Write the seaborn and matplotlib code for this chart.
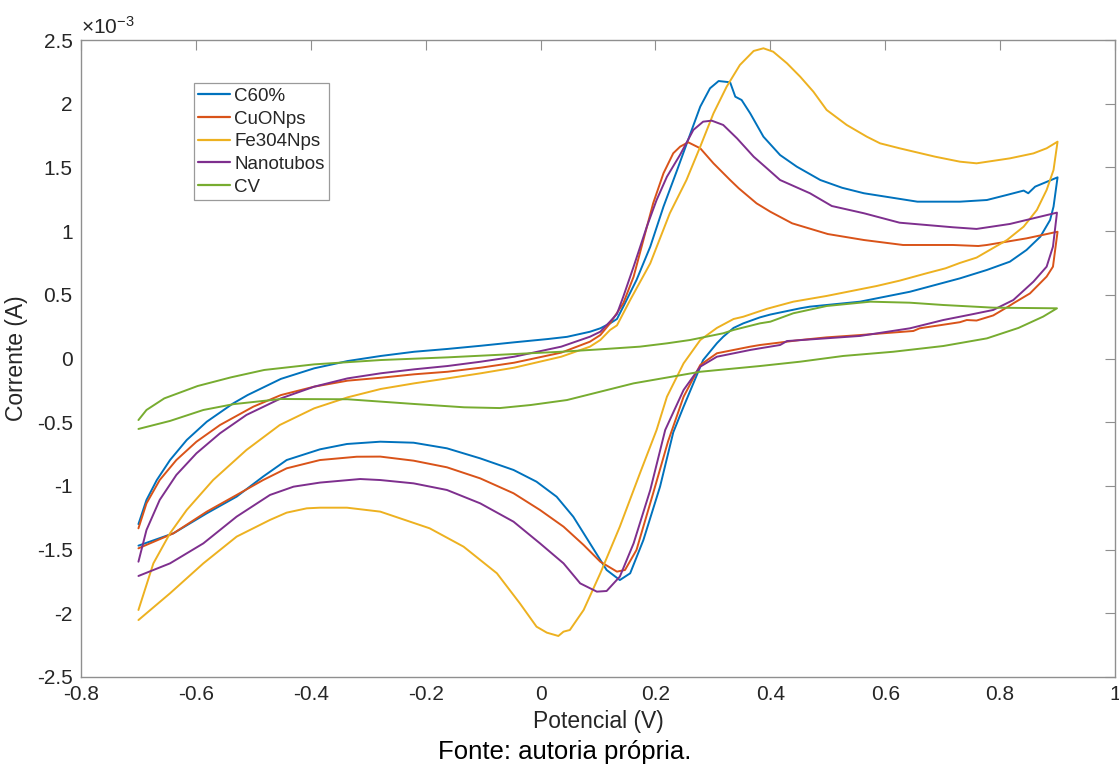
import numpy as np
import pandas as pd
import matplotlib
matplotlib.use("Agg")
import matplotlib.pyplot as plt
import seaborn as sns

# Cyclic voltammograms: potential (V) and current (x10^-3 A), one full cycle each:
# anodic sweep from -0.7 V up to 0.9 V, then the cathodic sweep back to -0.7 V.
c60_v = [-0.700, -0.686, -0.668, -0.645, -0.616, -0.581, -0.535, -0.510, -0.452, -0.394,
         -0.336, -0.278, -0.220, -0.162, -0.104, -0.046, 0.013, 0.046, 0.086, 0.104,
         0.121, 0.133, 0.144, 0.167, 0.191, 0.214, 0.237, 0.260, 0.278, 0.295,
         0.310, 0.330, 0.339, 0.350, 0.365, 0.388, 0.417, 0.446, 0.487, 0.525,
         0.563, 0.656, 0.730, 0.777, 0.812, 0.841, 0.849, 0.861, 0.900,
         0.893, 0.887, 0.870, 0.846, 0.817, 0.777, 0.730, 0.643, 0.556, 0.469,
         0.452, 0.400, 0.382, 0.353, 0.336, 0.318, 0.307, 0.283, 0.249, 0.231,
         0.208, 0.179, 0.156, 0.138, 0.115, 0.086, 0.057, 0.028, -0.007, -0.047,
         -0.105, -0.163, -0.221, -0.279, -0.337, -0.384, -0.442, -0.483, -0.529, -0.581,
         -0.639, -0.700]
c60_i = [-1.300, -1.110, -0.954, -0.797, -0.640, -0.496, -0.352, -0.287, -0.160, -0.077,
         -0.020, 0.020, 0.053, 0.075, 0.100, 0.127, 0.153, 0.170, 0.210, 0.237,
         0.276, 0.310, 0.407, 0.616, 0.878, 1.192, 1.470, 1.755, 1.977, 2.121,
         2.178, 2.168, 2.055, 2.029, 1.924, 1.741, 1.597, 1.506, 1.401, 1.340,
         1.297, 1.231, 1.231, 1.244, 1.284, 1.318, 1.297, 1.349, 1.422,
         1.192, 1.087, 0.956, 0.852, 0.760, 0.695, 0.629, 0.524, 0.446, 0.407,
         0.394, 0.345, 0.323, 0.276, 0.240, 0.171, 0.120, -0.012, -0.378, -0.580,
         -1.006, -1.425, -1.686, -1.739, -1.660, -1.451, -1.242, -1.085, -0.967, -0.875,
         -0.784, -0.705, -0.661, -0.653, -0.671, -0.713, -0.797, -0.927, -1.084, -1.215,
         -1.372, -1.469]

cuo_v = [-0.700, -0.686, -0.663, -0.634, -0.599, -0.558, -0.500, -0.452, -0.394, -0.336,
         -0.278, -0.220, -0.162, -0.104, -0.046, 0.036, 0.086, 0.104, 0.121, 0.144,
         0.162, 0.179, 0.196, 0.214, 0.231, 0.243, 0.257, 0.278, 0.301, 0.330,
         0.345, 0.376, 0.400, 0.438, 0.500, 0.563, 0.631, 0.718, 0.762, 0.777,
         0.846, 0.900,
         0.892, 0.881, 0.852, 0.823, 0.814, 0.788, 0.759, 0.742, 0.730, 0.660,
         0.649, 0.556, 0.498, 0.452, 0.382, 0.365, 0.307, 0.278, 0.249, 0.222,
         0.196, 0.167, 0.147, 0.133, 0.104, 0.075, 0.040, -0.001, -0.047, -0.105,
         -0.163, -0.221, -0.279, -0.320, -0.384, -0.442, -0.483, -0.529, -0.581, -0.639,
         -0.700]
cuo_i = [-1.333, -1.137, -0.954, -0.797, -0.653, -0.522, -0.378, -0.287, -0.221, -0.174,
         -0.151, -0.124, -0.104, -0.072, -0.033, 0.046, 0.132, 0.184, 0.276, 0.433,
         0.642, 0.930, 1.218, 1.454, 1.611, 1.663, 1.697, 1.650, 1.532, 1.401,
         1.336, 1.218, 1.152, 1.061, 0.977, 0.930, 0.891, 0.891, 0.883, 0.891,
         0.943, 0.995,
         0.721, 0.643, 0.511, 0.433, 0.407, 0.338, 0.298, 0.302, 0.285, 0.237,
         0.216, 0.184, 0.166, 0.145, 0.106, 0.093, 0.041, -0.051, -0.300, -0.650,
         -1.058, -1.503, -1.660, -1.673, -1.595, -1.464, -1.320, -1.189, -1.058, -0.941,
         -0.854, -0.802, -0.770, -0.771, -0.797, -0.862, -0.954, -1.071, -1.202, -1.372,
         -1.490]

fe3o4_v = [-0.700, -0.674, -0.645, -0.616, -0.570, -0.512, -0.454, -0.394, -0.336, -0.278,
           -0.220, -0.162, -0.104, -0.046, 0.036, 0.086, 0.104, 0.121, 0.133, 0.156,
           0.191, 0.225, 0.254, 0.278, 0.301, 0.324, 0.347, 0.371, 0.388, 0.405,
           0.429, 0.452, 0.475, 0.498, 0.533, 0.568, 0.591, 0.625, 0.687, 0.730,
           0.759, 0.817, 0.858, 0.881, 0.900,
           0.893, 0.881, 0.864, 0.841, 0.812, 0.777, 0.759, 0.730, 0.705, 0.672,
           0.625, 0.585, 0.498, 0.440, 0.394, 0.353, 0.336, 0.307, 0.278, 0.249,
           0.220, 0.202, 0.173, 0.138, 0.104, 0.075, 0.051, 0.040, 0.031, 0.011,
           -0.007, -0.036, -0.076, -0.134, -0.193, -0.279, -0.337, -0.384, -0.407, -0.442,
           -0.471, -0.529, -0.587, -0.645, -0.700]
fe3o4_i = [-1.974, -1.608, -1.372, -1.189, -0.954, -0.718, -0.522, -0.391, -0.305, -0.239,
           -0.195, -0.156, -0.116, -0.072, 0.014, 0.093, 0.145, 0.224, 0.260, 0.459,
           0.747, 1.140, 1.401, 1.663, 1.924, 2.134, 2.304, 2.414, 2.435, 2.408,
           2.317, 2.212, 2.094, 1.951, 1.833, 1.741, 1.689, 1.650, 1.584, 1.545,
           1.532, 1.571, 1.610, 1.650, 1.702,
           1.480, 1.323, 1.166, 1.035, 0.930, 0.839, 0.792, 0.750, 0.708, 0.669,
           0.611, 0.569, 0.491, 0.446, 0.390, 0.328, 0.310, 0.240, 0.145, -0.038,
           -0.300, -0.561, -0.901, -1.320, -1.686, -1.974, -2.131, -2.144, -2.178, -2.152,
           -2.105, -1.922, -1.686, -1.477, -1.333, -1.202, -1.171, -1.171, -1.176, -1.210,
           -1.267, -1.398, -1.608, -1.843, -2.053]

nano_v = [-0.700, -0.686, -0.663, -0.634, -0.599, -0.558, -0.512, -0.452, -0.394, -0.336,
          -0.278, -0.220, -0.162, -0.104, -0.046, 0.036, 0.086, 0.104, 0.121, 0.133,
          0.144, 0.162, 0.185, 0.202, 0.220, 0.243, 0.266, 0.283, 0.298, 0.318,
          0.342, 0.371, 0.394, 0.417, 0.469, 0.507, 0.563, 0.625, 0.718, 0.759,
          0.817, 0.899,
          0.892, 0.881, 0.858, 0.823, 0.788, 0.749, 0.701, 0.643, 0.556, 0.429,
          0.417, 0.382, 0.365, 0.307, 0.278, 0.249, 0.217, 0.191, 0.162, 0.138,
          0.115, 0.098, 0.069, 0.040, -0.001, -0.047, -0.105, -0.163, -0.221, -0.279,
          -0.314, -0.384, -0.430, -0.471, -0.529, -0.587, -0.645, -0.700]
nano_i = [-1.595, -1.346, -1.110, -0.914, -0.744, -0.587, -0.443, -0.313, -0.221, -0.156,
          -0.116, -0.085, -0.059, -0.025, 0.014, 0.093, 0.171, 0.210, 0.290, 0.350,
          0.485, 0.721, 1.035, 1.244, 1.427, 1.600, 1.794, 1.859, 1.867, 1.833,
          1.728, 1.584, 1.493, 1.401, 1.297, 1.197, 1.140, 1.066, 1.030, 1.017,
          1.056, 1.145,
          0.878, 0.721, 0.603, 0.459, 0.381, 0.345, 0.302, 0.237, 0.177, 0.137,
          0.106, 0.080, 0.067, 0.014, -0.064, -0.247, -0.561, -1.032, -1.451, -1.712,
          -1.825, -1.830, -1.765, -1.608, -1.451, -1.281, -1.137, -1.032, -0.980, -0.954,
          -0.946, -0.974, -1.006, -1.071, -1.241, -1.451, -1.608, -1.707]

cv_v = [-0.700, -0.686, -0.655, -0.597, -0.539, -0.481, -0.394, -0.278, -0.162, -0.046,
        0.036, 0.104, 0.173, 0.220, 0.260, 0.318, 0.336, 0.382, 0.400, 0.440,
        0.498, 0.574, 0.643, 0.701, 0.788, 0.899,
        0.875, 0.832, 0.777, 0.701, 0.614, 0.527, 0.452, 0.382, 0.278, 0.162,
        0.046, -0.017, -0.071, -0.133, -0.220, -0.336, -0.452, -0.534, -0.587, -0.645,
        -0.700]
cv_i = [-0.483, -0.404, -0.313, -0.216, -0.148, -0.090, -0.046, -0.012, 0.009, 0.035,
        0.053, 0.072, 0.093, 0.119, 0.145, 0.198, 0.224, 0.276, 0.289, 0.355,
        0.412, 0.446, 0.438, 0.420, 0.399, 0.394,
        0.329, 0.240, 0.158, 0.098, 0.053, 0.020, -0.025, -0.059, -0.104, -0.195,
        -0.326, -0.365, -0.389, -0.383, -0.357, -0.320, -0.318, -0.358, -0.404, -0.490,
        -0.553]

labels = ["C60%", "CuONps", "Fe304Nps", "Nanotubos", "CV"]
colors = ["#0072BD", "#D95319", "#EDB120", "#7E2F8E", "#77AC30"]

x_ticks = [-0.8, -0.6, -0.4, -0.2, 0, 0.2, 0.4, 0.6, 0.8, 1]
y_ticks = [-2.5, -2, -1.5, -1, -0.5, 0, 0.5, 1, 1.5, 2, 2.5]

series = [(c60_v, c60_i), (cuo_v, cuo_i), (fe3o4_v, fe3o4_i), (nano_v, nano_i), (cv_v, cv_i)]
frames = []
for name, (v, i) in zip(labels, series):
    frames.append(pd.DataFrame({"Potencial": v, "Corrente": i, "Amostra": name}))
df = pd.concat(frames, ignore_index=True)

sns.set_style("white")
plt.rcParams["font.family"] = ["Liberation Sans", "DejaVu Sans"]
plt.rcParams["axes.unicode_minus"] = False
plt.rcParams["mathtext.fontset"] = "custom"
plt.rcParams["mathtext.rm"] = "Liberation Sans"
plt.rcParams["mathtext.it"] = "Liberation Sans"

fig = plt.figure(figsize=(11.19, 7.66), dpi=100)
ax = fig.add_axes([81 / 1119, 1 - 677 / 766, (1115 - 81) / 1119, (677 - 40) / 766])

sns.lineplot(data=df, x="Potencial", y="Corrente", hue="Amostra", hue_order=labels,
             palette=colors, sort=False, estimator=None, units="Amostra",
             linewidth=1.4, ax=ax, legend=False)

ax.set_xlim(-0.8, 1.0)
ax.set_ylim(-2.5, 2.5)
ax.set_xticks(x_ticks)
ax.set_xticklabels([f"{t:g}" for t in x_ticks])
ax.set_yticks(y_ticks)
ax.set_yticklabels([f"{t:g}" for t in y_ticks])

spine_color = "#8f8f8f"
for s in ax.spines.values():
    s.set_color(spine_color)
    s.set_linewidth(1.0)
ax.tick_params(direction="in", length=7, width=0.8, color=spine_color,
               top=True, right=True, labelsize=15, labelcolor="#262626", pad=6)

ax.set_xlabel("Potencial (V)", fontsize=16.5, color="#262626", labelpad=4)
ax.set_ylabel("Corrente (A)", fontsize=16.5, color="#262626", labelpad=6)
ax.text(0.0, 1.004, r"$\times$10$^{-3}$", transform=ax.transAxes, fontsize=15,
        color="#262626", ha="left", va="bottom")

handles = [plt.Line2D([], [], color=c, linewidth=1.6) for c in colors]
leg = ax.legend(handles, labels, loc="upper left", bbox_to_anchor=(0.109, 0.9325),
                fontsize=13.5, frameon=True, fancybox=False, framealpha=1,
                edgecolor="#9a9a9a", handlelength=1.7, handletextpad=0.2,
                borderpad=0.25, labelspacing=0.3, borderaxespad=0)
leg.get_frame().set_linewidth(0.9)

fig.text(0.505, 0.0185, "Fonte: autoria própria.", ha="center", va="center",
         fontsize=18.5, color="black")

fig.savefig("out.png", dpi=100)
